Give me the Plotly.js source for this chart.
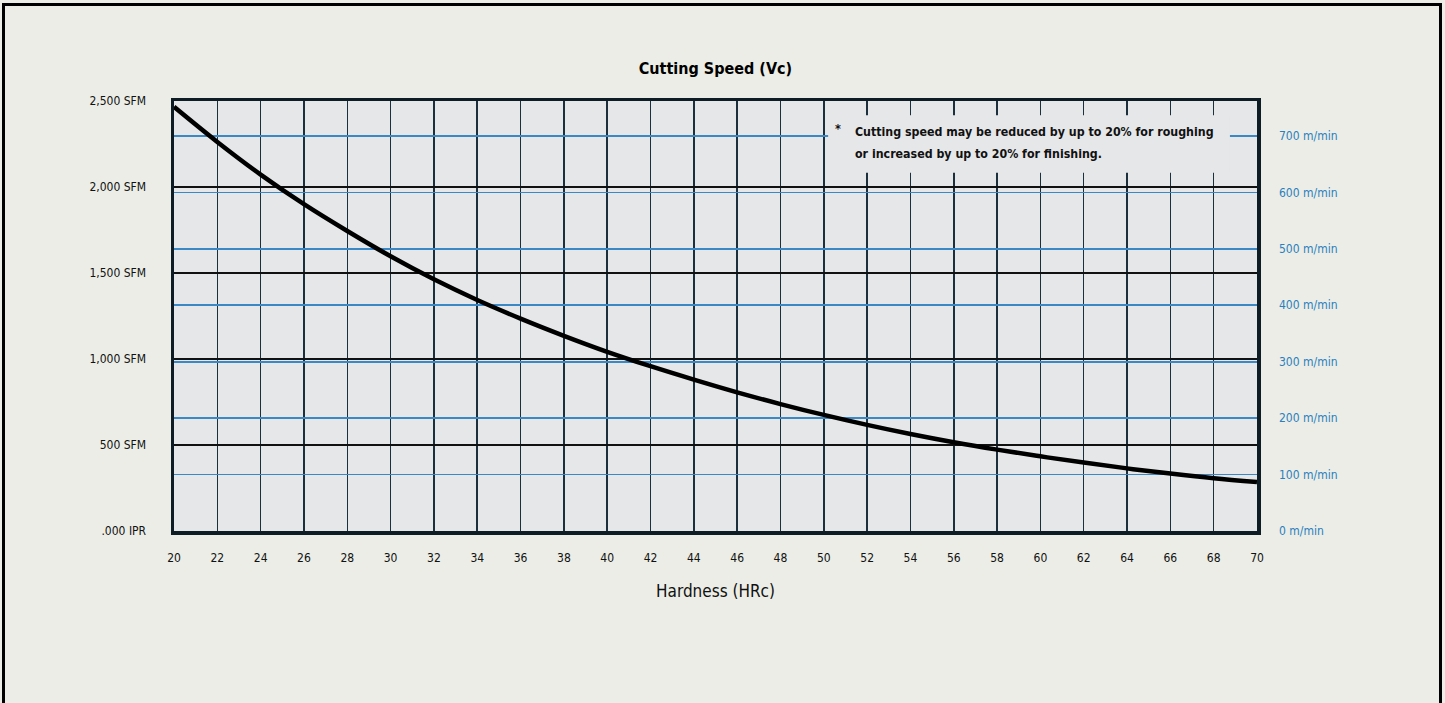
<!DOCTYPE html>
<html>
<head>
<meta charset="utf-8">
<script src="https://cdn.plot.ly/plotly-3.0.1.min.js"></script>
<style>
  html, body { margin: 0; padding: 0; background: #ebede6; }
  #chart { position: absolute; left: 0; top: 0; width: 1445px; height: 703px; }
  #chart text { font-stretch: condensed; }
  #frame { position: absolute; left: 2px; top: 3px; width: 1434px; height: 697px;
           border-top: 3px solid #000; border-left: 3px solid #000; border-right: 3px solid #000;
           border-bottom: 1px solid #bfc3bb; pointer-events: none; }
</style>
</head>
<body>
<div id="chart"></div>
<div id="frame"></div>
<script>
// ---- data ----
const hardness = [20, 22, 24, 26, 28, 30, 32, 34, 36, 38, 40, 42, 44, 46, 48, 50, 52, 54, 56, 58, 60, 62, 64, 66, 68, 70];
const speedSFM = [2466, 2262, 2072, 1900, 1744, 1597, 1463, 1343, 1235, 1135, 1042, 958, 880, 806, 738, 675, 617, 564, 516, 473, 434, 398, 364, 334, 307, 285];
const sfmTickVals = [0, 500, 1000, 1500, 2000, 2500];
const sfmTickText = ['.000 IPR', '500 SFM', '1,000 SFM', '1,500 SFM', '2,000 SFM', '2,500 SFM'];
const mminTickVals = [0, 100, 200, 300, 400, 500, 600, 700];
const mminUnit = 'm/min';
const xTickVals = [20, 22, 24, 26, 28, 30, 32, 34, 36, 38, 40, 42, 44, 46, 48, 50, 52, 54, 56, 58, 60, 62, 64, 66, 68, 70];
const titleText = 'Cutting Speed (Vc)';
const xTitleText = 'Hardness (HRc)';
const noteStar = '*';
const noteLines = ['Cutting speed may be reduced by up to 20% for roughing', 'or increased by up to 20% for finishing.'];
const SFM_PER_MMIN = 3.28084;

const FONT = '"DejaVu Sans Condensed", "DejaVu Sans", sans-serif';

const trace = {
  x: hardness, y: speedSFM, type: 'scatter', mode: 'lines',
  line: { color: '#000000', width: 4.5, shape: 'spline', smoothing: 1 },
  hoverinfo: 'x+y', showlegend: false
};
// invisible trace so the right axis is active
const trace2 = {
  x: [hardness[0]], y: [0], yaxis: 'y2', type: 'scatter', mode: 'markers',
  marker: { opacity: 0 }, showlegend: false, hoverinfo: 'skip'
};

const noteAnnotations = [
  { text: '<b>' + noteStar + '</b>', xref: 'paper', yref: 'paper', x: 0.613, y: 0.937,
    xanchor: 'center', yanchor: 'middle', showarrow: false,
    font: { family: FONT, size: 12.5, color: '#111' } }
].concat(noteLines.map((t, i) => ({
  text: '<b>' + t + '</b>', xref: 'paper', yref: 'paper', x: 0.627, y: [0.928, 0.877][i],
  xanchor: 'left', yanchor: 'middle', showarrow: false,
  font: { family: FONT, size: 12.3, color: '#111' }
})));

const layout = {
  width: 1445, height: 703,
  margin: { l: 174, r: 188, t: 101, b: 172, pad: 0 },
  paper_bgcolor: '#ebede6',
  plot_bgcolor: '#e6e7e9',
  font: { family: FONT, size: 12, color: '#111' },
  title: { text: '<b>' + titleText + '</b>', x: 0.5, xref: 'paper', y: 1 - 68 / 703, yref: 'container',
           xanchor: 'center', yanchor: 'middle', font: { family: FONT, size: 16, color: '#000' } },
  xaxis: {
    range: [20, 70], tickmode: 'array', tickvals: xTickVals, ticks: '', ticklabelstandoff: 13,
    showgrid: true, gridcolor: '#1b2f3d', gridwidth: 1.5,
    showline: true, mirror: true, linecolor: '#0e1c26', linewidth: 3.5, zeroline: false,
    tickfont: { family: FONT, size: 12, color: '#111' },
    title: { text: xTitleText, standoff: 22, font: { family: FONT, size: 17, color: '#111' } },
    fixedrange: true
  },
  yaxis: {
    range: [0, 2500], tickmode: 'array', tickvals: sfmTickVals, ticktext: sfmTickText, ticks: '',
    ticklabelstandoff: 22, showgrid: true, gridcolor: '#111111', gridwidth: 1.4,
    showline: true, mirror: true, linecolor: '#0e1c26', linewidth: 3.5, zeroline: false,
    tickfont: { family: FONT, size: 12, color: '#111' }, fixedrange: true
  },
  yaxis2: {
    overlaying: 'y', side: 'right', range: [0, 2500 / SFM_PER_MMIN],
    tickmode: 'array', tickvals: mminTickVals, ticktext: mminTickVals.map(v => v + ' ' + mminUnit),
    ticks: '', ticklabelstandoff: 21,
    showgrid: true, gridcolor: '#3a88c6', gridwidth: 1.6, showline: false, zeroline: false,
    tickfont: { family: FONT, size: 12, color: '#2a7fc0' }, fixedrange: true
  },
  shapes: [
    { type: 'rect', xref: 'paper', yref: 'paper', x0: 0.604, x1: 0.975, y0: 0.833, y1: 0.967,
      fillcolor: '#e6e7e9', line: { width: 0 }, layer: 'above' }
  ],
  annotations: noteAnnotations
};

Plotly.newPlot('chart', [trace, trace2], layout, { displayModeBar: false, staticPlot: true });
</script>
</body>
</html>
